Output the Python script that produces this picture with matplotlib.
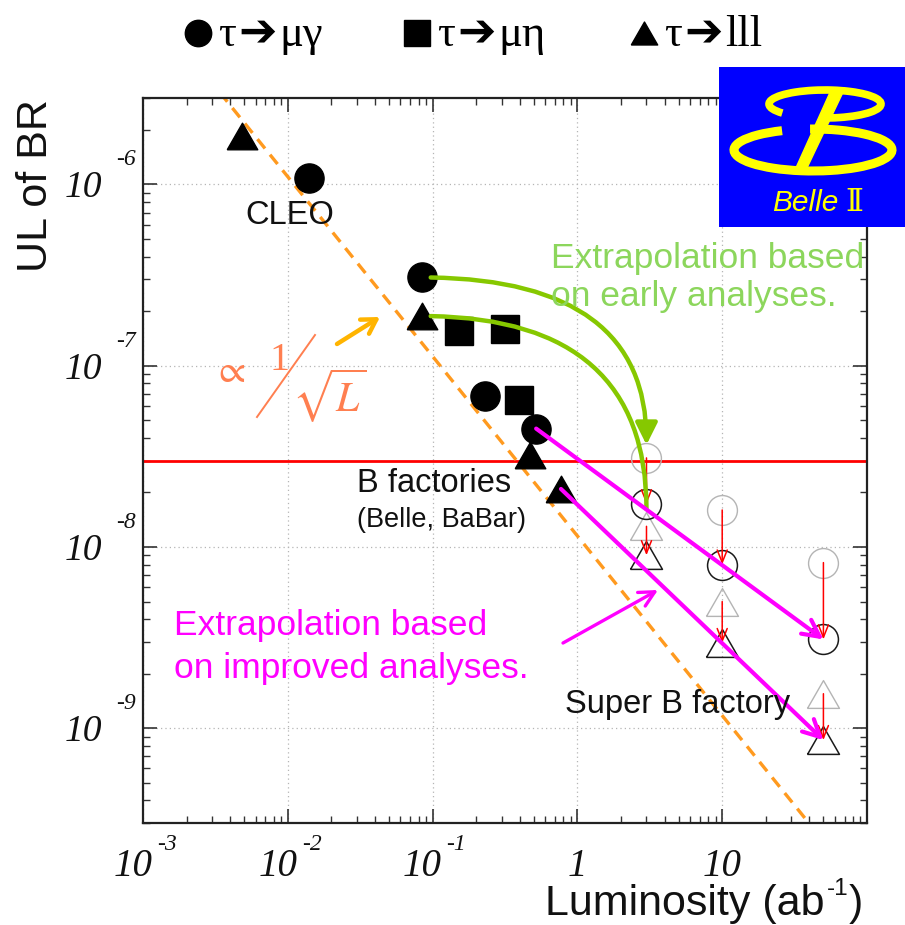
import numpy as np
import matplotlib
matplotlib.use("Agg")
import matplotlib.pyplot as plt
from matplotlib.patches import Rectangle, Arc, Polygon
from matplotlib.ticker import LogLocator, NullFormatter

# ---- measured upper limits (filled symbols) ----
mugamma_lumi = [0.014, 0.085, 0.231, 0.519]
mugamma_ul = [1.09e-6, 3.07e-7, 6.8e-8, 4.5e-8]
mueta_lumi = [0.153, 0.314, 0.398]
mueta_ul = [1.55e-7, 1.6e-7, 6.5e-8]
lll_lumi = [0.0048, 0.085, 0.467, 0.77]
lll_ul = [1.85e-6, 1.88e-7, 3.2e-8, 2.09e-8]

# ---- Super B factory projections (open symbols) ----
superb_lumi = [3, 10, 50]
mugamma_early = [3.1e-8, 1.6e-8, 8.2e-9]
mugamma_improved = [1.72e-8, 8.0e-9, 3.09e-9]
lll_early = [1.3e-8, 5.0e-9, 1.55e-9]
lll_improved = [9.0e-9, 2.95e-9, 8.6e-10]

# end points of the green "early analysis" curves
early_arrow_end = [3.66e-8, 1.62e-8]

# reference level and 1/L guide
ref_level = 3.0e-8
guide_lumi = [1e-3, 1e2]
guide_ul = [1.08e-5, 1.2e-10]

xtick_exp = [-3, -2, -1]
xtick_plain = [(1, '1'), (10, '10')]
ytick_exp = [-6, -7, -8, -9]

legend_labels = [('μγ', 'o'), ('μη', 's'), ('lll', 'tri')]

W, H = 905, 925
fig = plt.figure(figsize=(W / 100, H / 100), dpi=100)
renderer = fig.canvas.get_renderer()
AX_L, AX_R, AX_T, AX_B = 143, 867, 98, 823
ax = fig.add_axes([AX_L / W, (H - AX_B) / H, (AX_R - AX_L) / W, (AX_B - AX_T) / H])
ax.set_xscale('log')
ax.set_yscale('log')
ax.set_xlim(1e-3, 1e2)
ax.set_ylim(3e-10, 3e-6)

ax.xaxis.set_major_locator(LogLocator(base=10, numticks=12))
ax.xaxis.set_minor_locator(LogLocator(base=10, subs=np.arange(2, 10), numticks=30))
ax.yaxis.set_major_locator(LogLocator(base=10, numticks=12))
ax.yaxis.set_minor_locator(LogLocator(base=10, subs=np.arange(2, 10), numticks=30))
ax.xaxis.set_minor_formatter(NullFormatter())
ax.yaxis.set_minor_formatter(NullFormatter())
ax.tick_params(which='both', direction='in', top=True, right=True,
               labelbottom=False, labelleft=False, color='#333333')
ax.tick_params(which='major', length=10, width=1.2)
ax.tick_params(which='minor', length=5, width=1.0)
for sp in ax.spines.values():
    sp.set_linewidth(1.6)
    sp.set_color('#222222')
ax.grid(which='major', linestyle=(0, (1, 2.5)), color='#b5b5b5', lw=0.9)
ax.set_axisbelow(True)

# tick labels: italic serif "10" with raised exponent
tick_font = dict(family='Liberation Serif', style='italic', color='#111111')
for e in xtick_exp:
    ax.annotate('10', xy=(10.0 ** e, 0), xycoords=('data', 'axes fraction'),
                xytext=(-10, -53), textcoords='offset pixels', ha='center', va='baseline',
                fontsize=28, **tick_font)
    ax.annotate(f'-{abs(e)}', xy=(10.0 ** e, 0), xycoords=('data', 'axes fraction'),
                xytext=(14, -27), textcoords='offset pixels', ha='left', va='baseline',
                fontsize=17, **tick_font)
for v, s in xtick_plain:
    ax.annotate(s, xy=(v, 0), xycoords=('data', 'axes fraction'),
                xytext=(0, -53), textcoords='offset pixels', ha='center', va='baseline',
                fontsize=28, **tick_font)
for e in ytick_exp:
    ax.annotate('10', xy=(0, 10.0 ** e), xycoords=('axes fraction', 'data'),
                xytext=(-41, -13), textcoords='offset pixels', ha='right', va='baseline',
                fontsize=27, **tick_font)
    ax.annotate(f'-{abs(e)}', xy=(0, 10.0 ** e), xycoords=('axes fraction', 'data'),
                xytext=(-27, 19), textcoords='offset pixels', ha='left', va='baseline',
                fontsize=17, **tick_font)

# reference level and 1/L guide line
ax.axhline(ref_level, color='#ff0000', lw=2.0, zorder=2)
ax.plot(guide_lumi, guide_ul, color='#ff9a1f', lw=2.4, linestyle=(0, (3.6, 2.4)), zorder=2)

tri = [(-1, -0.87), (1, -0.87), (0, 0.87), (-1, -0.87)]

# open symbols: early (grey) and improved (black) projections
ax.plot(superb_lumi, mugamma_early, 'o', ms=21.5, mfc='none', mec='#b4b4b4', mew=1.0, ls='none', zorder=3)
ax.plot(superb_lumi, lll_early, marker=tri, ms=23, mfc='none', mec='#b4b4b4', mew=1.0, ls='none', zorder=3)
ax.plot(superb_lumi, mugamma_improved, 'o', ms=21.5, mfc='none', mec='#1a1a1a', mew=1.1, ls='none', zorder=3)
ax.plot(superb_lumi, lll_improved, marker=tri, ms=23, mfc='none', mec='#1a1a1a', mew=1.1, ls='none', zorder=3)

# red arrows early -> improved
red_arrow = dict(arrowstyle='->,head_length=0.5,head_width=0.2', color='#ff0000',
                 lw=1.1, shrinkA=0, shrinkB=0, mutation_scale=18)
for x, a, b in zip(superb_lumi, mugamma_early, mugamma_improved):
    ax.annotate('', xy=(x, b), xytext=(x, a), arrowprops=red_arrow, zorder=4)
for x, a, b in zip(superb_lumi, lll_early, lll_improved):
    ax.annotate('', xy=(x, b), xytext=(x, a), arrowprops=red_arrow, zorder=4)

# filled symbols: measured limits
ax.plot(mugamma_lumi, mugamma_ul, 'o', ms=21, color='black', ls='none', zorder=5)
ax.plot(mueta_lumi, mueta_ul, 's', ms=20, color='black', ls='none', zorder=5)
ax.plot(lll_lumi, lll_ul, marker=tri, ms=22, color='black', ls='none', zorder=5)

# green curved arrows (early analyses)
green = '#86c800'
ax.annotate('', xy=(superb_lumi[0], early_arrow_end[0]), xytext=(mugamma_lumi[1], mugamma_ul[1]),
            arrowprops=dict(arrowstyle='-|>,head_length=0.6,head_width=0.3', color=green, lw=3.2,
                            connectionstyle='angle3,angleA=0,angleB=90',
                            shrinkA=6, shrinkB=0, mutation_scale=22), zorder=6)
ax.annotate('', xy=(superb_lumi[0], early_arrow_end[1]), xytext=(lll_lumi[1], lll_ul[1]),
            arrowprops=dict(arrowstyle='-', color=green, lw=3.2,
                            connectionstyle='angle3,angleA=0,angleB=90',
                            shrinkA=6, shrinkB=0), zorder=6)

# magenta arrows (improved analyses)
magenta = '#ff00ff'
mag_arrow = dict(arrowstyle='->,head_length=0.55,head_width=0.28', color=magenta, lw=3.0,
                 shrinkA=0, shrinkB=0, mutation_scale=22)
ax.annotate('', xy=(superb_lumi[2], mugamma_improved[2]), xytext=(mugamma_lumi[3], mugamma_ul[3]),
            arrowprops=mag_arrow, zorder=6)
ax.annotate('', xy=(superb_lumi[2], lll_improved[2]), xytext=(lll_lumi[3], lll_ul[3]),
            arrowprops=mag_arrow, zorder=6)

# ---- decoration layer in pixel coordinates ----
deco = fig.add_axes([0, 0, 1, 1], zorder=10)
deco.set_xlim(0, W)
deco.set_ylim(H, 0)
deco.set_axis_off()


def text_run(x, y, pieces):
    """Place text pieces one after another along a baseline."""
    for s, dy, gap, kw in pieces:
        t = deco.text(x, y + dy, s, ha='left', va='baseline', **kw)
        x += t.get_window_extent(renderer).width + gap
    return x


sans = 'Liberation Sans'
ink = '#111111'
deco.text(36, 186, 'UL of BR', rotation=90, ha='center', va='center', fontsize=31, family=sans, color=ink)
text_run(545, 915, [('Luminosity (ab', 0, 2, dict(fontsize=31, family=sans, color=ink)),
                    ('-1', -20, 1, dict(fontsize=17.5, family=sans, color=ink)),
                    (')', 0, 0, dict(fontsize=31, family=sans, color=ink))])

deco.text(245, 224, 'CLEO', ha='left', va='baseline', fontsize=23.5, family=sans, color=ink)
deco.text(357, 492, 'B factories', ha='left', va='baseline', fontsize=23.5, family=sans, color=ink)
deco.text(357, 527, '(Belle, BaBar)', ha='left', va='baseline', fontsize=19.5, family=sans, color=ink)
deco.text(565, 713, 'Super B factory', ha='left', va='baseline', fontsize=23.5, family=sans, color=ink)

green_txt = '#8cd65c'
deco.text(551, 268, 'Extrapolation based', ha='left', va='baseline', fontsize=25.5, family=sans, color=green_txt)
deco.text(551, 306, 'on early analyses.', ha='left', va='baseline', fontsize=25.5, family=sans, color=green_txt)
deco.text(174, 635, 'Extrapolation based', ha='left', va='baseline', fontsize=25.5, family=sans, color=magenta)
deco.text(174, 678, 'on improved analyses.', ha='left', va='baseline', fontsize=25.5, family=sans, color=magenta)

deco.annotate('', xy=(658, 590), xytext=(563, 643),
              arrowprops=dict(arrowstyle='->,head_length=0.55,head_width=0.28', color=magenta, lw=2.4,
                              shrinkA=0, shrinkB=0, mutation_scale=20))

# proportionality annotation
coral = '#ff7f50'
deco.annotate('', xy=(380, 317), xytext=(337, 344),
              arrowprops=dict(arrowstyle='->,head_length=0.5,head_width=0.3', color='#ffb400', lw=3.2,
                              shrinkA=0, shrinkB=0, mutation_scale=20))
deco.text(229, 371, r'$\propto$', ha='center', va='center', fontsize=28, color=coral, math_fontfamily='stix')
deco.text(279, 370, '1', ha='center', va='baseline', fontsize=29, color=coral, family='Liberation Serif')
deco.plot([257, 315], [417, 335], color=coral, lw=1.4)
deco.text(292, 412, r'$\sqrt{L}$', ha='left', va='baseline', fontsize=30, color=coral, math_fontfamily='stix')

# legend row
serif_kw = dict(fontsize=32, family='Liberation Serif', color='black')
arrow_kw = dict(fontsize=33, family='DejaVu Sans', color='black')
leg_x = [186, 405, 632]
for (lab, mk), x0 in zip(legend_labels, leg_x):
    marker = tri if mk == 'tri' else mk
    deco.plot([x0 + 12], [33], marker=marker, ms=19, color='black', ls='none')
    text_run(x0 + 32, 46, [('τ', 0, 2, serif_kw), ('➔', -1, 3, arrow_kw), (lab, 0, 0, serif_kw)])

# Belle II logo
LX, LY = 719, 67
logo = fig.add_axes([LX / W, (H - 227) / H, (W - LX) / W, (227 - LY) / H], zorder=11)
logo.set_xlim(0, W - LX)
logo.set_ylim(0, 227 - LY)
logo.set_axis_off()
logo.add_patch(Rectangle((0, 0), W - LX, 227 - LY, color='#0000ff'))
yel = '#ffff00'
logo.add_patch(Arc((106, 123), 112, 28, theta1=252, theta2=192, lw=5.5, color=yel))
logo.add_patch(Arc((94, 77), 158, 42, theta1=148, theta2=98, lw=6.5, color=yel))
logo.add_patch(Polygon([(113, 139), (126, 139), (87, 57), (76, 57)], closed=True, color=yel))
logo.text(53, 16, 'Belle', ha='left', va='baseline', fontsize=21.5, style='italic', family=sans, color=yel)
logo.text(126, 16, 'Ⅱ', ha='left', va='baseline', fontsize=22, family='DejaVu Serif', color=yel)

fig.savefig('out.png', dpi=100)
